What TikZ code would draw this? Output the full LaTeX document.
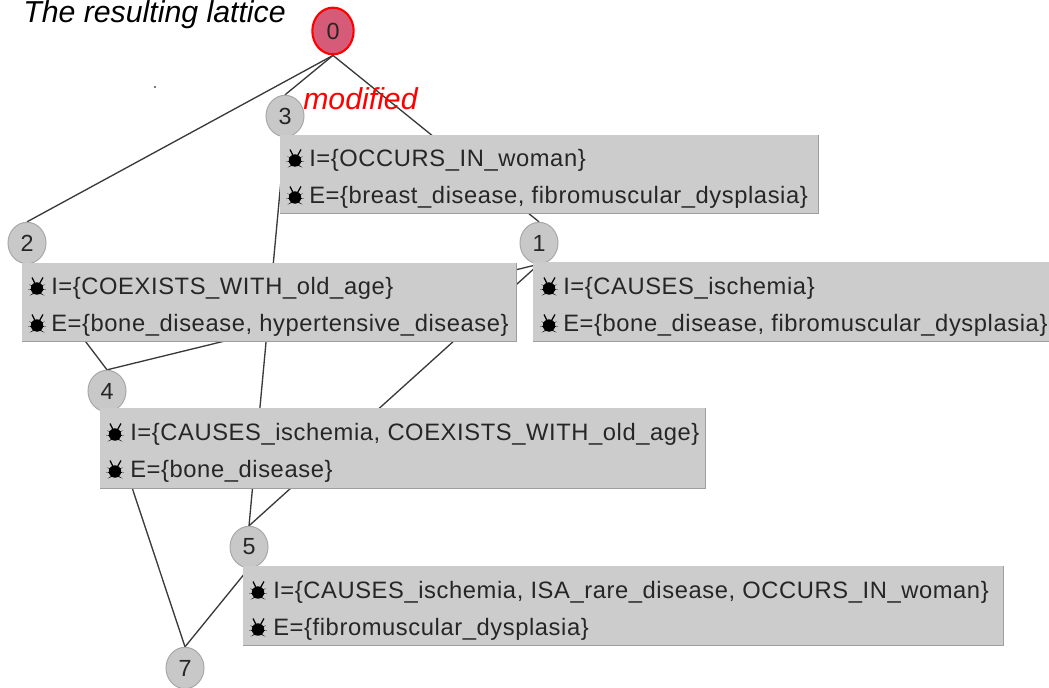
\documentclass[tikz,border=0pt]{standalone}
\usepackage{fontspec}
\setmainfont{Liberation Sans}
\newfontfamily\rowfont[LetterSpace=2.5]{Liberation Sans}
\usetikzlibrary{shapes.geometric,backgrounds}
\definecolor{boxfill}{HTML}{CCCCCC}
\definecolor{boxedge}{HTML}{9E9E9E}
\definecolor{nodefill}{HTML}{C8C8C8}
\definecolor{nodeedge}{HTML}{A8A8A8}
\definecolor{rootfill}{HTML}{D65B78}
\definecolor{edgeline}{HTML}{3A3A3A}
\tikzset{
  x=0.75pt,y=-0.75pt,
  lat/.style={ellipse,draw=nodeedge,line width=0.75pt,fill=nodefill,minimum width=28.5pt,minimum height=31pt,inner sep=0pt,font=\fontsize{17.5}{20}\selectfont,text=black!85},
  root/.style={lat,draw=red,line width=1.6pt,fill=rootfill,minimum width=31pt,minimum height=35pt},
  infobox/.style={rectangle,fill=boxfill,draw=none,inner sep=0pt,anchor=north west},
  row/.style={anchor=base west,inner sep=0pt,font=\rowfont\fontsize{17.8}{20}\selectfont,text=black!85},
  conn/.style={draw=edgeline,line width=1pt},
  note/.style={anchor=base west,inner sep=0pt,font=\itshape\fontsize{22.7}{25}\selectfont},
  bug/.pic={
    \fill[black] (0,2) circle[radius=6.2];
    \fill[black] (-8,-2) -- (0,0) -- (8,-2) -- (0,2) -- (9,3) -- (0,4) -- (7.5,9) -- (0,6) -- (-7.5,9) -- (0,4) -- (-9,3) -- (0,2) -- cycle;
    \draw[black,line width=0.9pt] (-1.5,-2) -- (-5,-9) (2,-2) -- (6,-9);
  }
}
\begin{document}
\begin{tikzpicture}
\useasboundingbox (0,0) rectangle (1049,688);
% lattice nodes
\node[root] (n0) at (333,31) {0};
\node[lat] (n3) at (285,116) {3};
\node[lat] (n2) at (27,243) {2};
\node[lat] (n1) at (539,243) {1};
\node[lat] (n4) at (107,391) {4};
\node[lat] (n5) at (249,547) {5};
\node[lat] (n7) at (185,668) {7};
% connectors
\begin{pgfonlayer}{background}
\draw[conn] (n0.south) -- (n2.north);
\draw[conn] (n0.south) -- (n3.north);
\draw[conn] (n0.south) -- (n1.north);
\draw[conn] (n3.south) -- (n5.north);
\draw[conn] (n1.south) -- (n4.north);
\draw[conn] (n1.south) -- (n5.north);
\draw[conn] (n2.south) -- (n4.north);
\draw[conn] (n4.south) -- (n7.north);
\draw[conn] (n5.south) -- (n7.north);
\end{pgfonlayer}
% info boxes
\node[infobox,minimum width=403.5pt,minimum height=58.5pt] (b3) at (280,135) {};
\node[infobox,minimum width=370.5pt,minimum height=58.5pt] (b2) at (22,263) {};
\node[infobox,minimum width=387.5pt,minimum height=59pt] (b1) at (533,262) {};
\node[infobox,minimum width=453.5pt,minimum height=60pt] (b4) at (100,408) {};
\node[infobox,minimum width=570pt,minimum height=59pt] (b5) at (243,566) {};
\draw[boxedge,line width=1pt] (b3.south west) -- (b3.south east) -- (b3.north east);
\draw[boxedge,line width=1pt] (b2.south west) -- (b2.south east) -- (b2.north east);
\draw[boxedge,line width=1pt] (b1.south west) -- (b1.south east);
\draw[boxedge,line width=1pt] (b4.south west) -- (b4.south east) -- (b4.north east);
\draw[boxedge,line width=1pt] (b5.south west) -- (b5.south east) -- (b5.north east);
% rows
\pic at (295,158.5) {bug}; \node[row] (t3a) at (309,166.5) {I=\{OCCURS\_IN\_woman\}};
\pic at (295,195.5) {bug}; \node[row] (t3b) at (309,203.5) {E=\{breast\_disease, fibromuscular\_dysplasia\}};
\pic at (37,286.5) {bug}; \node[row] (t2a) at (51,294.5) {I=\{COEXISTS\_WITH\_old\_age\}};
\pic at (37,323.5) {bug}; \node[row] (t2b) at (51,331.5) {E=\{bone\_disease, hypertensive\_disease\}};
\pic at (549,286.5) {bug}; \node[row] (t1a) at (563,294.5) {I=\{CAUSES\_ischemia\}};
\pic at (549,323.5) {bug}; \node[row] (t1b) at (563,331.5) {E=\{bone\_disease, fibromuscular\_dysplasia\}};
\pic at (115,432.5) {bug}; \node[row] (t4a) at (130,440.5) {I=\{CAUSES\_ischemia, COEXISTS\_WITH\_old\_age\}};
\pic at (115,469.5) {bug}; \node[row] (t4b) at (130,477.5) {E=\{bone\_disease\}};
\pic at (258,590.5) {bug}; \node[row] (t5a) at (273,598.5) {I=\{CAUSES\_ischemia, ISA\_rare\_disease, OCCURS\_IN\_woman\}};
\pic at (258,627.5) {bug}; \node[row] (t5b) at (273,635.5) {E=\{fibromuscular\_dysplasia\}};
% annotations
\node[note] (title) at (23,22.5) {The resulting lattice};
\node[note,text=red] (mod) at (303,110) {modified};
\fill[black!70] (155,87) circle[radius=1.2];
\end{tikzpicture}
\end{document}
